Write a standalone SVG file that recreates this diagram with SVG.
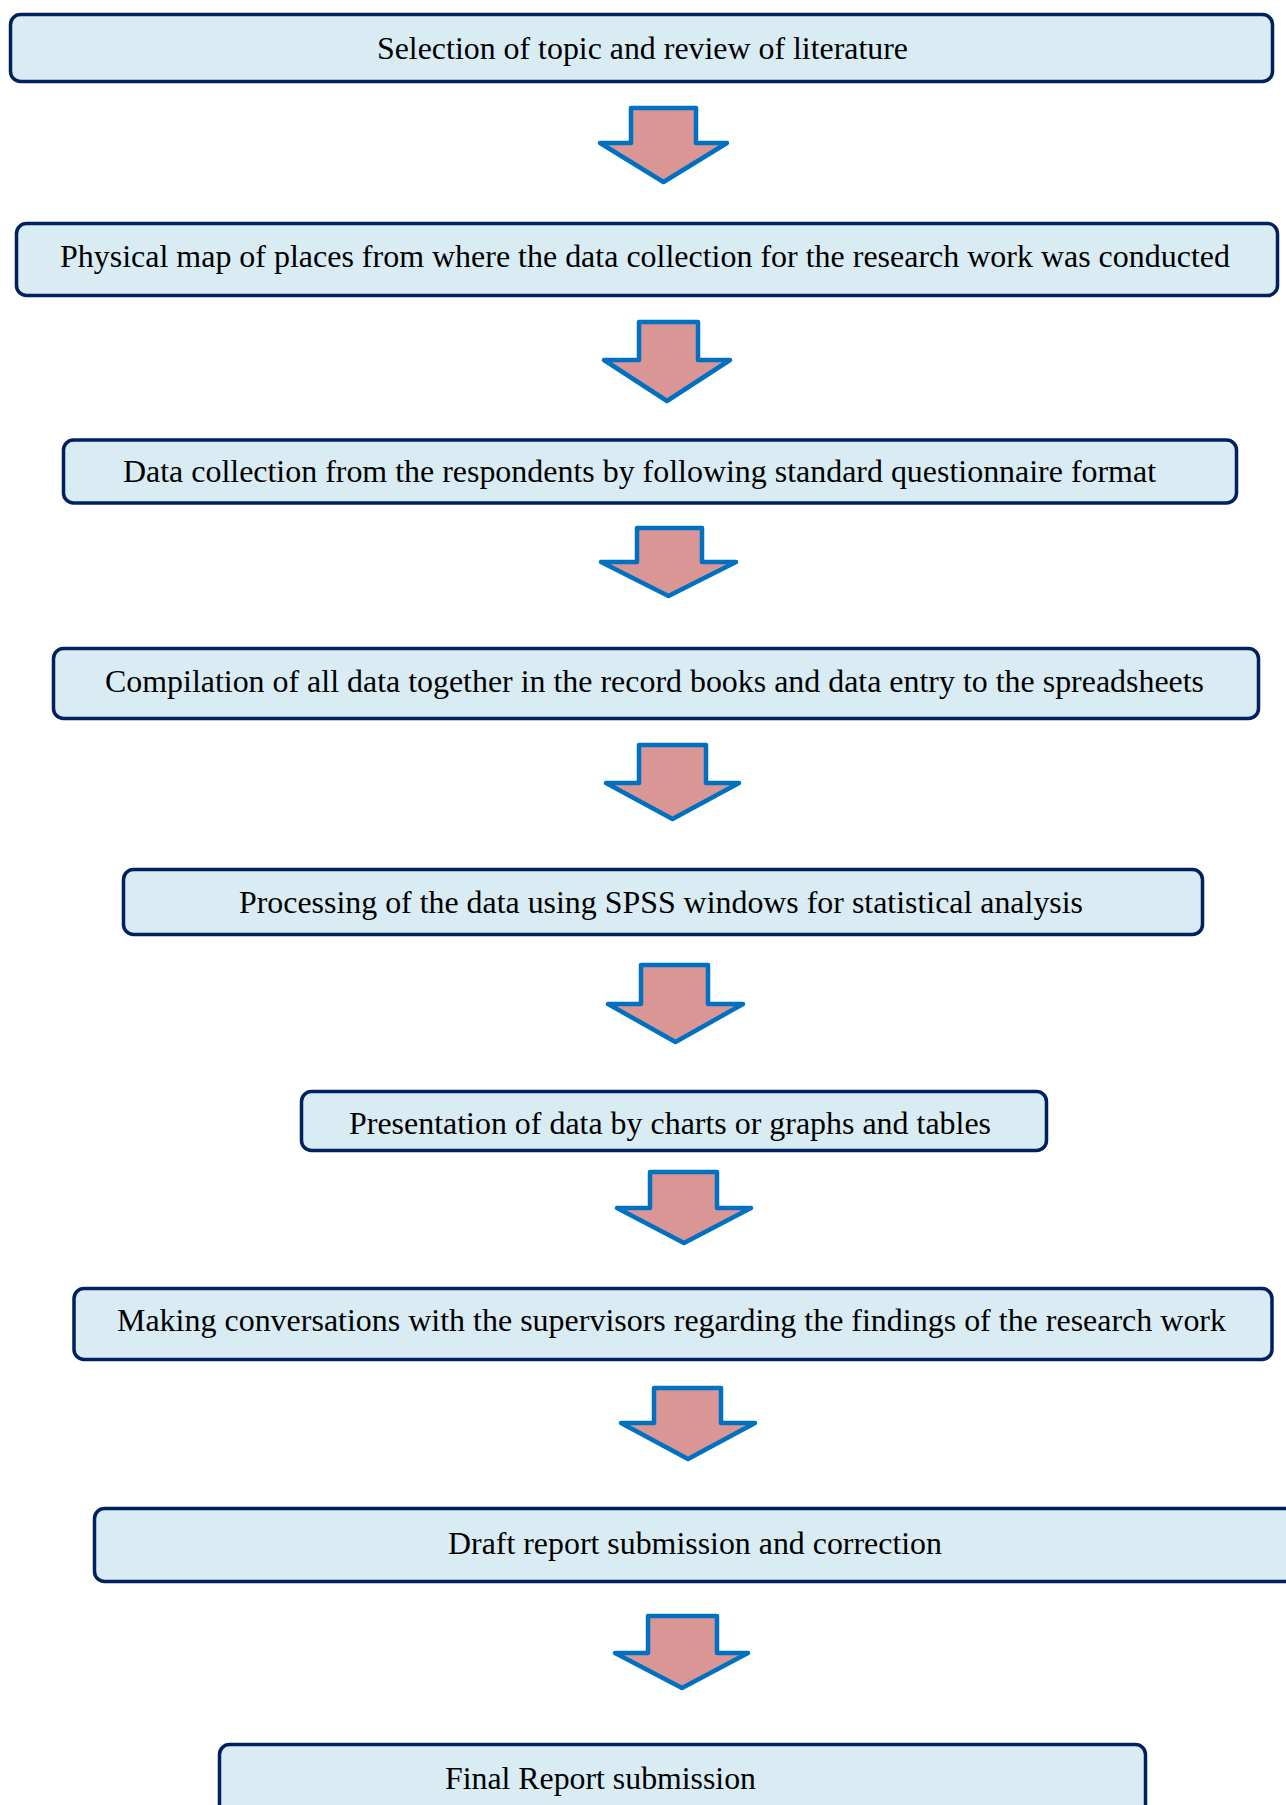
<svg xmlns="http://www.w3.org/2000/svg" width="1286" height="1805" viewBox="0 0 1286 1805">
<style>
.box{fill:#DAECF3;stroke:#002060;stroke-width:3.5}
.lbl{font-family:"Liberation Serif","Times New Roman",serif;font-size:32px;fill:#000}
.arr{fill:#D99694;stroke:#0070C0;stroke-width:4.5;stroke-linejoin:round}
</style>
<rect width="1286" height="1805" fill="#fff"/>
<g id="connectors">
<polygon class="arr" points="631,108 696,108 696,143 727,143 663.5,182 600,143 631,143"/>
<polygon class="arr" points="639,322 698,322 698,360 730,360 667,401 604,360 639,360"/>
<polygon class="arr" points="637,528 702,528 702,562 736,562 668.5,596 601,562 637,562"/>
<polygon class="arr" points="639,745 706,745 706,783 739,783 672.5,819 606,783 639,783"/>
<polygon class="arr" points="641,965 708,965 708,1004 743,1004 675.5,1042 608,1004 641,1004"/>
<polygon class="arr" points="650,1172 717,1172 717,1208 751,1208 684,1243 617,1208 650,1208"/>
<polygon class="arr" points="654,1388 721,1388 721,1423 755,1423 688,1459 621,1423 654,1423"/>
<polygon class="arr" points="648,1616 717,1616 717,1653 748,1653 682,1688 615,1653 648,1653"/>
</g>
<g id="n1"><rect class="box" x="10.5" y="14.5" width="1262" height="67" rx="10"/><text class="lbl" x="377" y="59" textLength="531" lengthAdjust="spacingAndGlyphs">Selection of topic and review of literature</text></g>
<g id="n2"><rect class="box" x="16.5" y="223.5" width="1261" height="72" rx="10"/><text class="lbl" x="60" y="267" textLength="1170" lengthAdjust="spacingAndGlyphs">Physical map of places from where the data collection for the research work was conducted</text></g>
<g id="n3"><rect class="box" x="63.5" y="440" width="1173" height="63" rx="10"/><text class="lbl" x="123" y="482" textLength="1033" lengthAdjust="spacingAndGlyphs">Data collection from the respondents by following standard questionnaire format</text></g>
<g id="n4"><rect class="box" x="53.5" y="648.5" width="1205" height="70" rx="10"/><text class="lbl" x="105" y="692" textLength="1099" lengthAdjust="spacingAndGlyphs">Compilation of all data together in the record books and data entry to the spreadsheets</text></g>
<g id="n5"><rect class="box" x="123.5" y="869.5" width="1079" height="65" rx="10"/><text class="lbl" x="239" y="913" textLength="844" lengthAdjust="spacingAndGlyphs">Processing of the data using SPSS windows for statistical analysis</text></g>
<g id="n6"><rect class="box" x="301.5" y="1091.5" width="745" height="59" rx="10"/><text class="lbl" x="349" y="1134" textLength="642" lengthAdjust="spacingAndGlyphs">Presentation of data by charts or graphs and tables</text></g>
<g id="n7"><rect class="box" x="74" y="1288.5" width="1198" height="71" rx="10"/><text class="lbl" x="117" y="1331" textLength="1109" lengthAdjust="spacingAndGlyphs">Making conversations with the supervisors regarding the findings of the research work</text></g>
<g id="n8"><rect class="box" x="94.5" y="1508.5" width="1250" height="73" rx="10"/><text class="lbl" x="448" y="1554" textLength="494" lengthAdjust="spacingAndGlyphs">Draft report submission and correction</text></g>
<g id="n9"><rect class="box" x="219.5" y="1744.5" width="926" height="100" rx="10"/><text class="lbl" x="445" y="1789" textLength="311" lengthAdjust="spacingAndGlyphs">Final Report submission</text></g>
</svg>
